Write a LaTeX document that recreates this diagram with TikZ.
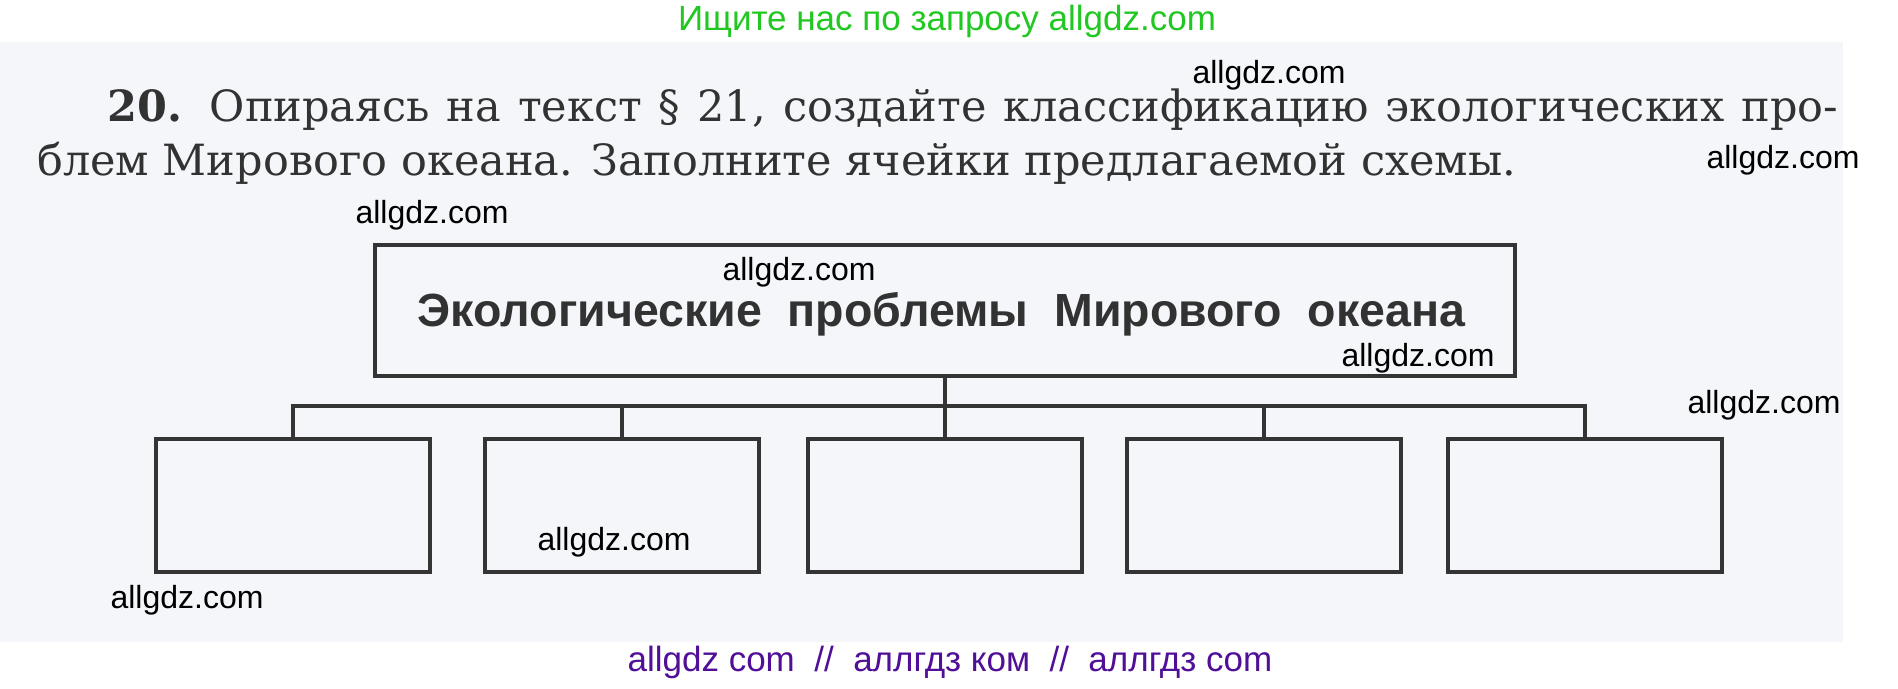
\documentclass[tikz,border=0pt]{standalone}
\usepackage{fontspec}
\setmainfont{DejaVu Serif}
\newfontfamily\sansf{Liberation Sans}
\definecolor{ink}{RGB}{50,50,50}
\definecolor{boxline}{RGB}{52,52,52}
\definecolor{paper}{RGB}{244,246,249}
\definecolor{wmgreen}{RGB}{34,200,34}
\definecolor{wmpurple}{RGB}{80,15,150}
\tikzset{
  mainbox/.style={draw=boxline, line width=3.3pt, minimum width=1140pt, minimum height=131pt, inner sep=0pt},
  leaf/.style={draw=boxline, line width=3.3pt, minimum width=274pt, minimum height=133pt, inner sep=0pt},
  conn/.style={draw=boxline, line width=3.3pt},
  wm/.style={text=black, font=\sansf\fontsize{32pt}{36pt}\selectfont, inner sep=0pt},
  task/.style={text=ink, font=\fontsize{43pt}{50pt}\selectfont, inner sep=0pt, anchor=base west},
}
\begin{document}
\begin{tikzpicture}[x=1pt,y=-1pt]
\useasboundingbox (0,0) rectangle (1898,688);
\fill[white] (0,0) rectangle (1898,688);
\fill[paper] (0,42) rectangle (1843,642);
% task text
\node[task] (t1) at (107,121) {\makebox[1731pt][s]{\textbf{20.} Опираясь на текст § 21, создайте классификацию экологических про-}};
\node[task] (t2) at (37,175) {блем Мирового океана. Заполните ячейки предлагаемой схемы.};
% main box
\node[mainbox] (main) at (945,310.5) {};
\node[text=ink, font=\sansf\bfseries\fontsize{46.5pt}{52pt}\selectfont, inner sep=0pt] (title) at (941.5,314) {Экологические\ \ проблемы\ \ Мирового\ \ океана};
% leaf boxes
\node[leaf] (b1) at (293,505.5) {};
\node[leaf] (b2) at (622,505.5) {};
\node[leaf] (b3) at (945,505.5) {};
\node[leaf] (b4) at (1264,505.5) {};
\node[leaf] (b5) at (1585,505.5) {};
\coordinate (j) at (945,406);
\draw[conn] (main.south) -- (b3.north);
\draw[conn] (b1.north) |- (j) -| (b5.north);
\draw[conn] (b2.north) |- (j);
\draw[conn] (b4.north) |- (j);
% watermarks
\node[wm] (w1) at (1269,75) {allgdz.com};
\node[wm] (w2) at (1783,160) {allgdz.com};
\node[wm] (w3) at (432,215) {allgdz.com};
\node[wm] (w4) at (799,272) {allgdz.com};
\node[wm] (w5) at (1418,358) {allgdz.com};
\node[wm] (w6) at (1764,405) {allgdz.com};
\node[wm] (w7) at (614,542) {allgdz.com};
\node[wm] (w8) at (187,600) {allgdz.com};
\node[text=wmgreen, font=\sansf\fontsize{35pt}{40pt}\selectfont, inner sep=0pt] (g) at (947,21) {Ищите нас по запросу allgdz.com};
\node[text=wmpurple, font=\sansf\fontsize{35pt}{40pt}\selectfont, inner sep=0pt] (p) at (950,662) {allgdz com\ \ //\ \ аллгдз ком\ \ //\ \ аллгдз com};
\end{tikzpicture}
\end{document}
